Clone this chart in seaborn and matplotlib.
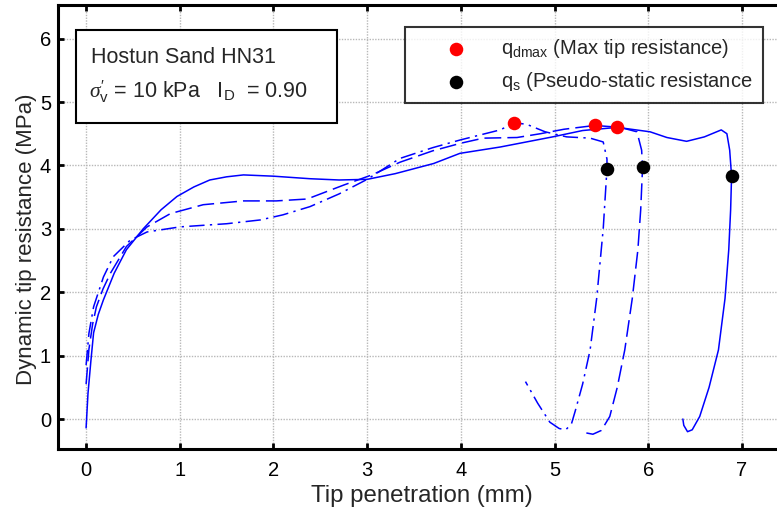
import seaborn as sns
import matplotlib.pyplot as plt
from matplotlib.patches import Rectangle

# solid curve (deepest penetration)
solid_x = [0, 0.02, 0.05, 0.08, 0.13, 0.185, 0.3, 0.43, 0.61, 0.8, 0.97, 1.15, 1.32, 1.5, 1.68,
           2.0, 2.39, 2.7, 3.0, 3.3, 3.71, 3.99, 4.42, 4.98, 5.3, 5.67, 6.02, 6.2, 6.41, 6.6,
           6.78, 6.84, 6.87, 6.89, 6.88, 6.86, 6.82, 6.75, 6.65, 6.55, 6.47, 6.42, 6.38, 6.37]
solid_y = [-0.14, 0.4, 0.9, 1.36, 1.65, 1.88, 2.3, 2.67, 3.0, 3.3, 3.51, 3.66, 3.77, 3.82, 3.85,
           3.83, 3.79, 3.77, 3.78, 3.87, 4.03, 4.19, 4.29, 4.45, 4.55, 4.6, 4.53, 4.44, 4.38, 4.45,
           4.56, 4.5, 4.24, 3.83, 3.3, 2.67, 1.9, 1.09, 0.5, 0.04, -0.17, -0.2, -0.1, 0.0]

# dashed curve
dash_x = [0, 0.03, 0.07, 0.11, 0.18, 0.26, 0.43, 0.65, 0.9, 1.25, 1.68, 2.03, 2.36, 2.75, 3.05,
          3.35, 3.7, 4.0, 4.24, 4.6, 4.85, 5.1, 5.43, 5.7, 5.88, 5.93, 5.94, 5.92, 5.89, 5.83,
          5.75, 5.67, 5.59, 5.5, 5.41, 5.34]
dash_y = [0.55, 1.1, 1.5, 1.77, 2.05, 2.3, 2.72, 3.03, 3.24, 3.38, 3.44, 3.44, 3.47, 3.69, 3.85,
          4.05, 4.23, 4.35, 4.43, 4.44, 4.5, 4.57, 4.63, 4.6, 4.53, 4.24, 3.97, 3.3, 2.67, 1.9,
          1.09, 0.5, 0.04, -0.18, -0.24, -0.22]

# dash-dot curve
dd_x = [0, 0.03, 0.08, 0.185, 0.29, 0.47, 0.65, 1.0, 1.5, 1.86, 2.1, 2.39, 2.7, 3.0, 3.35, 3.7,
        3.99, 4.42, 4.57, 4.7, 4.9, 5.13, 5.38, 5.52, 5.56, 5.56, 5.52, 5.45, 5.38, 5.3, 5.22,
        5.18, 5.12, 5.05, 4.95, 4.82, 4.69]
dd_y = [0.85, 1.35, 1.77, 2.24, 2.56, 2.82, 2.95, 3.03, 3.08, 3.14, 3.22, 3.35, 3.55, 3.78, 4.11,
        4.28, 4.4, 4.56, 4.67, 4.65, 4.53, 4.45, 4.43, 4.37, 4.1, 3.95, 3.0, 1.9, 1.09, 0.55,
        0.12, -0.08, -0.17, -0.15, -0.05, 0.25, 0.59]

qdmax_x = [4.57, 5.43, 5.67]
qdmax_y = [4.67, 4.63, 4.60]
qs_x = [5.56, 5.94, 6.89]
qs_y = [3.95, 3.97, 3.83]

sns.set_style("white")
plt.rcParams['font.family'] = ['Liberation Sans', 'DejaVu Sans']
plt.rcParams['mathtext.fontset'] = 'custom'
plt.rcParams['mathtext.rm'] = 'Liberation Sans'
plt.rcParams['mathtext.it'] = 'Liberation Serif:italic'
plt.rcParams['mathtext.bf'] = 'Liberation Sans:bold'

W, H = 777, 516
fig = plt.figure(figsize=(7.77, 5.16), dpi=100)
ax = fig.add_axes([58 / W, 1 - 449 / H, 1 - 58 / W, (449 - 5) / H])

blue = '#0000ff'
sns.lineplot(x=solid_x, y=solid_y, sort=False, estimator=None, color=blue, lw=1.1, ax=ax)
sns.lineplot(x=dash_x, y=dash_y, sort=False, estimator=None, color=blue, lw=1.1, ax=ax,
             linestyle=(0, (11, 4)))
sns.lineplot(x=dd_x, y=dd_y, sort=False, estimator=None, color=blue, lw=1.1, ax=ax,
             linestyle=(0, (10, 3.5, 1.5, 3.5)))

sns.scatterplot(x=qdmax_x, y=qdmax_y, color='#ff0000', s=95, linewidth=0, ax=ax, zorder=5,
                label='q$_{\\mathrm{dmax}}$ (Max tip resistance)')
sns.scatterplot(x=qs_x, y=qs_y, color='black', s=95, linewidth=0, ax=ax, zorder=5,
                label='q$_{\\mathrm{s}}$ (Pseudo-static resistance')

ax.set_xlim(-0.3, 7.375)
ax.set_ylim(-0.473, 6.53)
ax.set_xticks(range(0, 8))
ax.set_yticks(range(0, 7))
ax.set_axisbelow(True)
ax.grid(True, color='0.72', linestyle=(0, (1, 1)), lw=1.0)
ax.tick_params(direction='in', top=True, bottom=True, left=True, right=False,
               length=4.5, width=2, labelsize=14.5, colors='black', zorder=3)
ax.tick_params(axis='x', pad=9)
ax.tick_params(axis='y', pad=5)
for s in ['left', 'bottom', 'top']:
    ax.spines[s].set_linewidth(2.2)
    ax.spines[s].set_color('black')
ax.spines['right'].set_visible(False)

ax.set_xlabel('Tip penetration (mm)', fontsize=17.3)
ax.set_ylabel('Dynamic tip resistance (MPa)', fontsize=16)
ax.xaxis.set_label_coords((422 - 58) / (W - 58), (449 - 485) / 444)
ax.yaxis.set_label_coords((37 - 58) / (W - 58), (449 - 239) / 444)

leg = ax.legend(loc='upper right', bbox_to_anchor=(763 / W, 1 - 27 / H),
                bbox_transform=fig.transFigure, fontsize=14.5, frameon=True, fancybox=False,
                handlelength=4.1, handletextpad=0.2, borderpad=0.5, labelspacing=0.5,
                borderaxespad=0, markerscale=1.0)
leg.get_frame().set_edgecolor('black')
leg.get_frame().set_linewidth(1.5)

fig.patches.append(Rectangle((76 / W, 1 - 123 / H), (337 - 76) / W, (123 - 30) / H,
                             transform=fig.transFigure, facecolor='white',
                             edgecolor='black', lw=1.5, zorder=10))
fig.text(91 / W, 1 - 63 / H, 'Hostun Sand HN31', fontsize=15.5, va='baseline', zorder=11)
fig.text(89 / W, 1 - 98 / H,
         '$\\sigma^{\\prime\\,\\,}_{\\mathrm{v}}$ = 10 kPa   I$_{\\mathrm{D}}$  = 0.90',
         fontsize=15.5, va='baseline', zorder=11)

fig.savefig('out.png', dpi=100)
